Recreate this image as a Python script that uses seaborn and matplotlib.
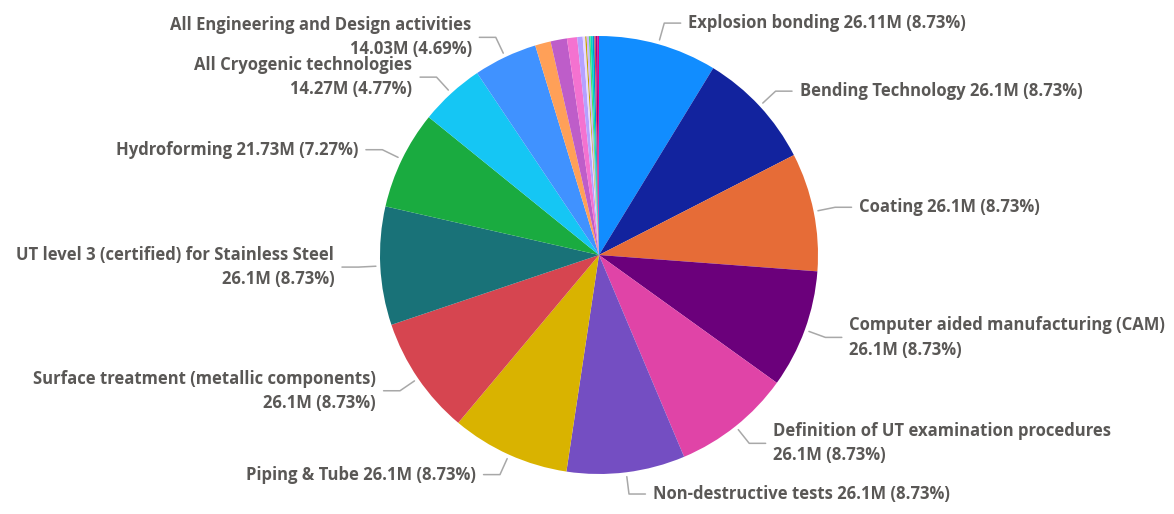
import numpy as np
import matplotlib
matplotlib.use("Agg")
import matplotlib.pyplot as plt
import seaborn as sns

# labelled slices (values in millions), clockwise from 12 o'clock
names = ["Explosion bonding", "Bending Technology", "Coating",
         "Computer aided manufacturing (CAM)", "Definition of UT examination procedures",
         "Non-destructive tests", "Piping & Tube", "Surface treatment (metallic components)",
         "UT level 3 (certified) for Stainless Steel", "Hydroforming",
         "All Cryogenic technologies", "All Engineering and Design activities"]
values = [26.11, 26.1, 26.1, 26.1, 26.1, 26.1, 26.1, 26.1, 26.1, 21.73, 14.27, 14.03]
two_line = [False, False, False, True, True, False, False, True, True, False, True, True]

# small unlabelled slices at the end
small_values = [3.45, 3.6, 2.25, 1.2, 0.55, 0.3, 0.5, 0.35, 0.45, 0.4, 0.3, 0.4, 0.31]

colors = ["#118DFF", "#12239E", "#E66C37", "#6B007B", "#E044A7", "#744EC2",
          "#D9B300", "#D64550", "#197278", "#1AAB40", "#15C6F4", "#4092FF",
          "#FFA058", "#BE5DC9", "#F472D0", "#B5A1FF", "#E8D9FF", "#C4A200",
          "#C9B8FF", "#5BD667", "#00DBBC", "#0091D5", "#D64550", "#99008A", "#EC008C"]

sns.set_theme(style="white")
plt.rcParams['font.family'] = ['Open Sans', 'DejaVu Sans']

all_values = values + small_values
total = sum(all_values)

fig = plt.figure(figsize=(11.74, 5.14), dpi=100)
ax = fig.add_axes([0, 0, 1, 1])

wedges, _ = ax.pie(all_values, colors=sns.color_palette(colors[:len(all_values)]),
                   startangle=90, counterclock=False, radius=1,
                   wedgeprops=dict(linewidth=0))

r_px = 219
ax.set_xlim(-599 / r_px, (1174 - 599) / r_px)
ax.set_ylim(-(514 - 255) / r_px, 255 / r_px)
ax.set_aspect('equal')
ax.axis('off')

txt_color = "#5A5856"
line_color = "#A8A8A8"
for i, name in enumerate(names):
    w = wedges[i]
    ang = np.deg2rad((w.theta1 + w.theta2) / 2)
    x0, y0 = 1.02 * np.cos(ang), 1.02 * np.sin(ang)
    x1, y1 = 1.10 * np.cos(ang), 1.10 * np.sin(ang)
    side = 1 if x1 >= 0 else -1
    x2 = x1 + side * 0.075
    ax.plot([x0, x1, x2], [y0, y1, y1], color=line_color, lw=1.1)
    sep = "\n" if two_line[i] else " "
    label = f"{name}{sep}{values[i]:g}M ({values[i] / total * 100:.2f}%)"
    ax.text(x2 + side * 0.035, y1, label, ha='left' if side > 0 else 'right',
            va='center', fontsize=12, fontweight='bold', color=txt_color,
            linespacing=1.45, multialignment='left' if side > 0 else 'right')

fig.savefig("out.png", dpi=100)
